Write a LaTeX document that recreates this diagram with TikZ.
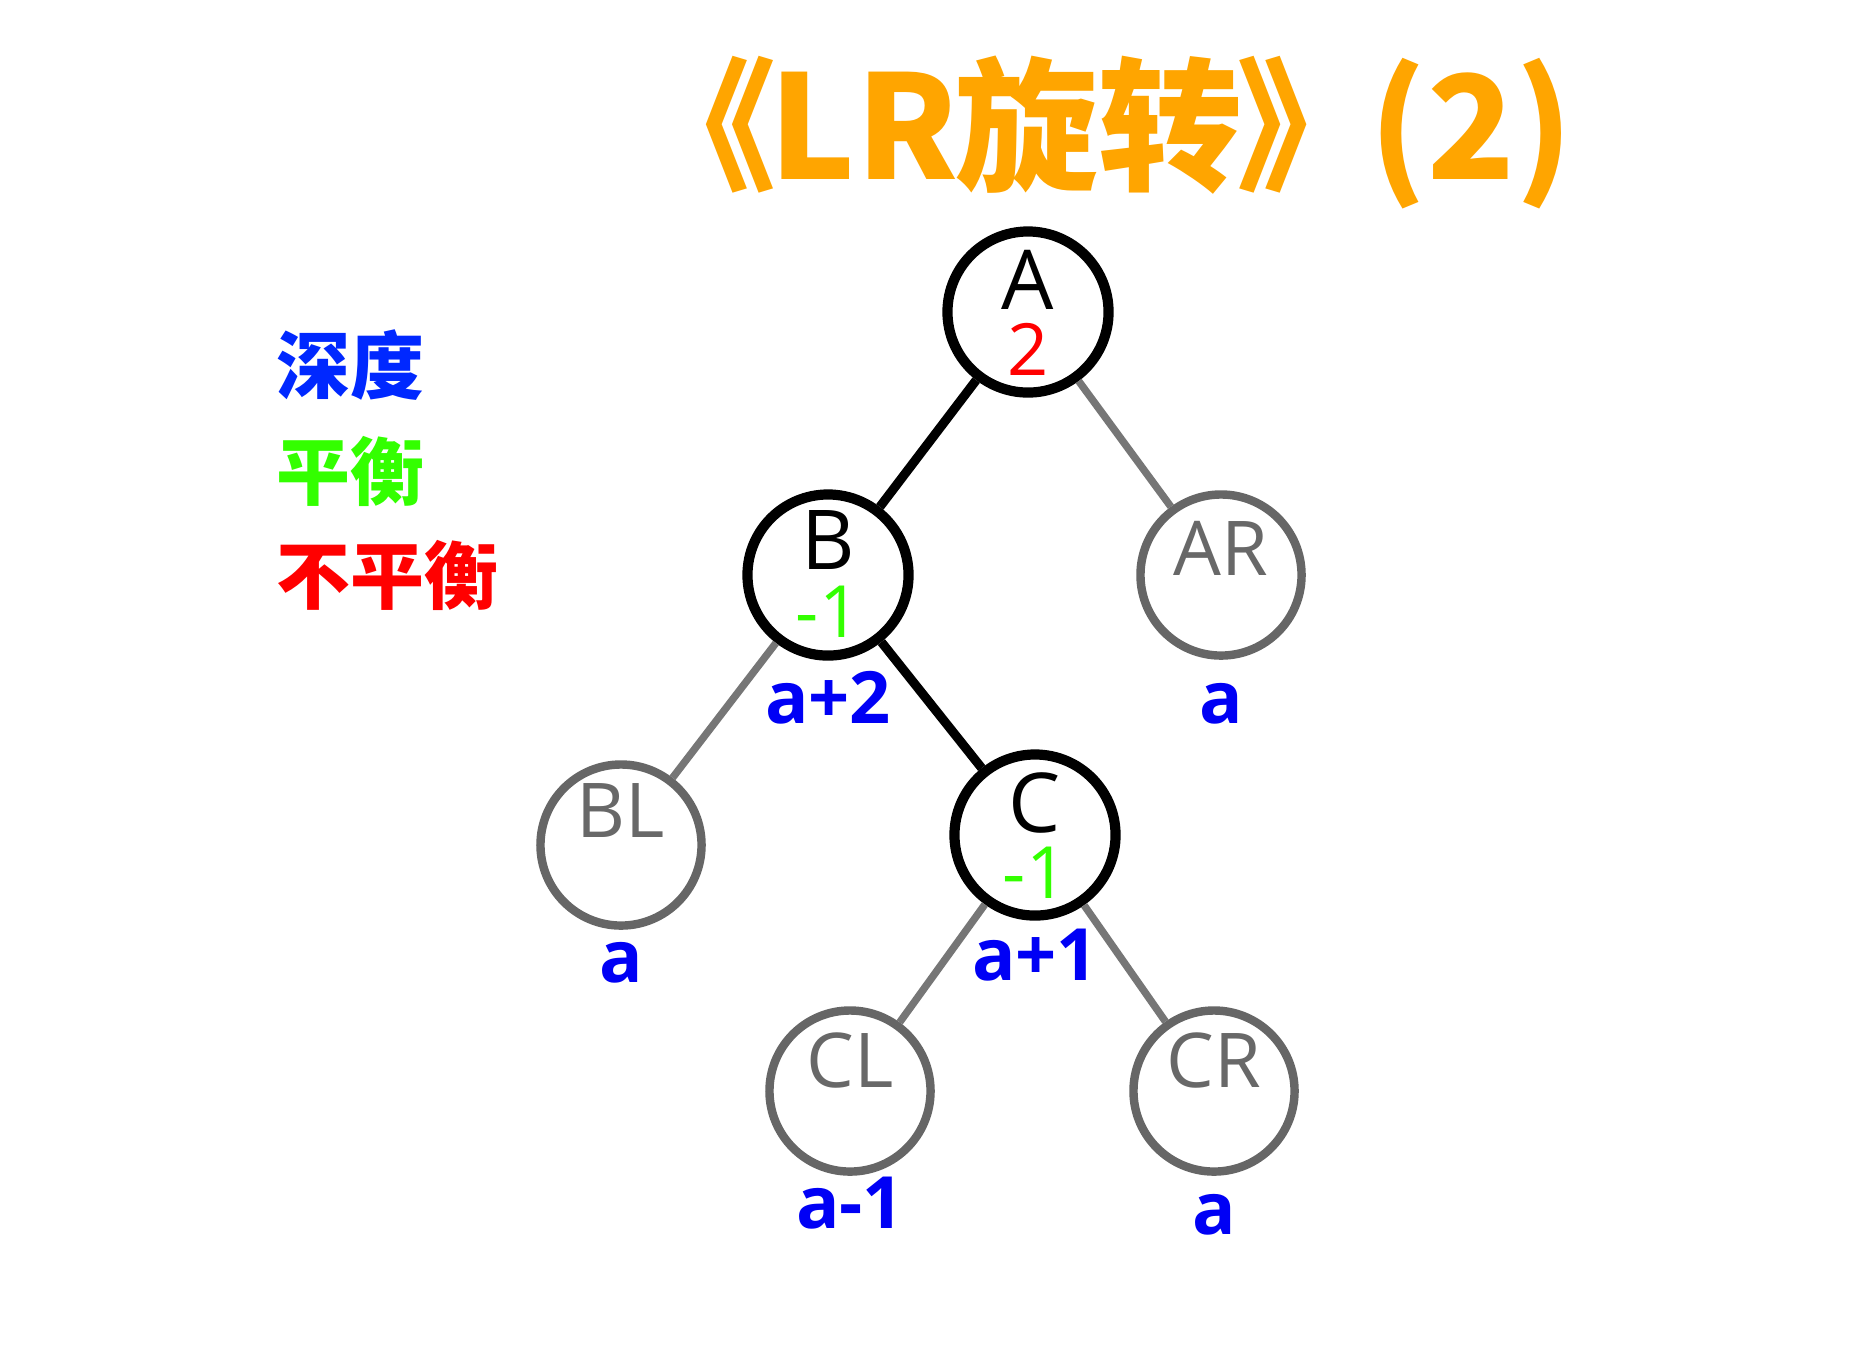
\documentclass[tikz,border=0pt]{standalone}
\usepackage{fontspec}
\setmainfont{Open Sans}
\newfontfamily\cjkfont{Noto Sans CJK SC}
\usetikzlibrary{positioning}
\definecolor{titleOrange}{HTML}{FFA500}
\definecolor{depthBlue}{HTML}{0000F5}
\definecolor{keyBlue}{HTML}{0028FF}
\definecolor{balGreen}{HTML}{33FF00}
\definecolor{unbalRed}{HTML}{FF0000}
\definecolor{nodeGray}{HTML}{666666}
\definecolor{edgeGray}{HTML}{767676}
\definecolor{textGray}{HTML}{686868}
\tikzset{
  keynode/.style={circle, draw=black, line width=2.9pt, minimum size=1.61cm, inner sep=0pt},
  subtree/.style={circle, draw=nodeGray, line width=2.4pt, minimum size=1.61cm, inner sep=0pt},
  keyname/.style={anchor=base, inner sep=0pt, font=\fontsize{23.5}{24}\selectfont},
  subname/.style={anchor=base, inner sep=0pt, text=textGray, font=\fontsize{21.5}{22}\selectfont},
  balance/.style={anchor=base, inner sep=0pt, font=\fontsize{20.5}{21}\selectfont},
  depth/.style={anchor=base, inner sep=0pt, text=depthBlue, font=\bfseries\fontsize{20.5}{21}\selectfont},
  hotedge/.style={draw=black, line width=2.6pt},
  coldedge/.style={draw=edgeGray, line width=2.1pt},
  legend/.style={anchor=west, inner sep=0pt, font=\cjkfont\bfseries\fontsize{21}{22}\selectfont}
}
\begin{document}
\begin{tikzpicture}[x=0.01cm, y=-0.01cm]
  \fill[white] (0,0) rectangle (1874,1356);
  \useasboundingbox (0,0) rectangle (1874,1356);

  % title
  \node[anchor=base west, inner sep=0pt, text=titleOrange, font=\cjkfont\bfseries\fontsize{41}{44}\selectfont]
    (title) at (632,179) {《\kern-2pt LR\kern-1pt 旋转\kern-2pt》\kern-3pt(2)};

  % legend
  \node[legend, text=keyBlue] (keyDepth) at (276,365) {深度};
  \node[legend, text=balGreen] (keyBal) at (276,471) {平衡};
  \node[legend, text=unbalRed] (keyUnbal) at (276,575) {不平衡};

  % tree
  \node[keynode] (A) at (1028,312) {};
  \node[keynode] (B) at (828,575) {};
  \node[subtree] (AR) at (1221,575) {};
  \node[subtree] (BL) at (621,845) {};
  \node[keynode] (C) at (1035,835) {};
  \node[subtree] (CL) at (850,1091) {};
  \node[subtree] (CR) at (1214,1091) {};

  \draw[hotedge] (A) -- (B);
  \draw[coldedge] (A) -- (AR);
  \draw[coldedge] (B) -- (BL);
  \draw[hotedge] (B) -- (C);
  \draw[coldedge] (C) -- (CL);
  \draw[coldedge] (C) -- (CR);

  % names and balance factors
  \node[keyname] (A-key) at ([yshift=0.03cm]A.center) {A};
  \node[balance, text=unbalRed] (A-bf) at ([yshift=-0.63cm]A.center) {2};
  \node[keyname] (B-key) at ([yshift=0.06cm]B.center) {B};
  \node[balance, text=balGreen] (B-bf) at ([yshift=-0.62cm]B.center) {-1};
  \node[keyname] (C-key) at ([yshift=0.03cm]C.center) {C};
  \node[balance, text=balGreen] (C-bf) at ([yshift=-0.63cm]C.center) {-1};
  \node[subname] (AR-key) at ([yshift=0.0cm]AR.center) {AR};
  \node[subname] (BL-key) at ([yshift=0.08cm]BL.center) {BL};
  \node[subname] (CL-key) at ([yshift=0.04cm]CL.center) {CL};
  \node[subname] (CR-key) at ([yshift=0.04cm]CR.center) {CR};

  % depths
  \node[depth] (B-depth) at ([yshift=-1.48cm]B.center) {a+2};
  \node[depth] (AR-depth) at ([yshift=-1.48cm]AR.center) {a};
  \node[depth] (BL-depth) at ([yshift=-1.37cm]BL.center) {a};
  \node[depth] (C-depth) at ([yshift=-1.45cm]C.center) {a+1};
  \node[depth] (CL-depth) at ([yshift=-1.37cm]CL.center) {a-1};
  \node[depth] (CR-depth) at ([yshift=-1.43cm]CR.center) {a};
\end{tikzpicture}
\end{document}
